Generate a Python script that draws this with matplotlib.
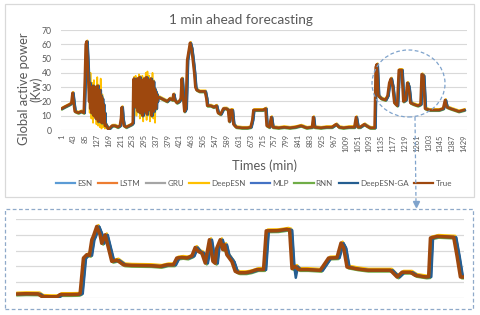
import numpy as np
import matplotlib
matplotlib.use("Agg")
import matplotlib.pyplot as plt
import matplotlib.transforms as mtransforms
from matplotlib.patches import Rectangle, Ellipse
from matplotlib.lines import Line2D

plt.rcParams['font.family'] = ['Lato', 'DejaVu Sans']

# ---------------- data ----------------
models = ["ESN", "LSTM", "GRU", "DeepESN", "MLP", "RNN", "DeepESN-GA", "True"]
colors = ["#5B9BD5", "#ED7D31", "#A5A5A5", "#FFC000", "#4472C4", "#70AD47", "#255E91", "#9E480E"]

# True series (main view), minutes and kW
true_t = [1, 10, 20, 30, 36, 40, 44, 48, 60, 70, 80, 84, 87, 90, 94,
          97, 99, 101, 103, 105, 107, 109, 111, 113, 115, 117, 119, 121, 123, 125, 127, 129, 131, 133,
          135, 137, 139, 141, 143, 145, 147, 149, 151, 153, 155, 157,
          165, 170, 175, 180, 190, 200, 208, 212, 215, 218, 222, 230, 240, 250, 254,
          256, 258, 260, 262, 264, 266, 268, 270, 272, 274, 276, 278, 280, 282, 284, 286, 288, 290,
          292, 294, 296, 298, 300, 302, 304, 306, 308, 310, 312, 314, 316, 318, 320, 322, 324, 326,
          328, 330, 332, 334, 336, 338, 340, 342,
          345, 355, 365, 375, 385, 395, 398, 402, 410, 418, 424, 428, 432, 437, 442, 447, 452, 457, 462,
          467, 472, 476, 480, 490, 500, 510, 515, 518, 530, 540, 550, 556, 565, 575, 585, 592, 596, 601,
          606, 611, 620, 640, 660, 672, 678, 682, 700, 715, 725, 729, 738, 745, 750, 770, 790, 810, 830,
          850, 870, 890, 894, 898, 920, 940, 960, 975, 985, 1000, 1020, 1040, 1046, 1052, 1060, 1075, 1082,
          1095, 1112, 1116, 1120, 1125, 1135, 1150, 1158, 1164, 1170, 1176, 1182, 1192, 1198, 1208, 1214,
          1222, 1228, 1233, 1239, 1250, 1265, 1275, 1279, 1285, 1291, 1305, 1320, 1340, 1355, 1362, 1368,
          1380, 1395, 1410, 1429]
true_v = [15, 16, 17, 18, 19, 26, 19, 13, 12, 13, 12, 37, 60, 62, 45,
          30, 20, 33, 15, 30, 12, 28, 18, 31, 10, 27, 15, 30, 8, 26, 14, 31, 6, 25,
          11, 28, 16, 24, 5, 22, 9, 18, 5, 12, 3, 4,
          1, 1, 2, 3, 3, 2, 3, 8, 16, 8, 3, 2, 3, 4, 5,
          34, 36, 22, 35, 16, 34, 25, 36, 13, 33, 20, 37, 12, 34, 24, 35, 10, 31,
          18, 36, 13, 33, 22, 37, 11, 34, 19, 35, 14, 33, 24, 36, 10, 31, 18, 34,
          13, 29, 20, 27, 15, 25, 20, 23,
          23, 22, 21, 20, 22, 21, 25, 21, 19, 20, 22, 36, 24, 13, 15, 49, 55, 61, 57,
          49, 40, 30, 28, 27, 27, 27, 22, 17, 17, 16, 17, 12, 11, 15, 15, 14, 6, 14,
          14, 4, 2, 1.5, 1.5, 2, 7, 14, 14, 14, 15, 3, 2, 9, 2, 1.5, 2, 1.5, 2,
          3, 1.5, 2, 9, 2, 1.5, 2, 2, 4, 2, 1.5, 2, 2, 9, 2, 2, 4, 3,
          1.5, 1.5, 44, 46, 24, 22, 21, 24, 33, 36, 30, 19, 17, 42, 42, 20,
          21, 33, 30, 19, 18, 17, 18, 39, 38, 15, 14, 14, 14, 15, 21, 16,
          15, 14, 13, 14]

# DeepESN wider swings in the two noisy stretches
deep_t1 = [98, 101, 104, 107, 110, 113, 116, 119, 122, 125, 128, 131, 134, 137, 140, 143, 146, 149, 152, 155, 158]
deep_v1 = [38, 12, 40, 8, 33, 5, 35, 10, 30, 4, 37, 3, 28, 2, 36, 1, 25, 2, 12, 1, 2]
deep_t2 = [258, 261, 264, 267, 270, 273, 276, 279, 282, 285, 288, 291, 294, 297, 300, 303, 306, 309,
           312, 315, 318, 321, 324, 327, 330, 333, 336, 339, 342]
deep_v2 = [37, 16, 38, 10, 36, 18, 39, 8, 36, 12, 38, 6, 33, 14, 40, 7, 41, 18,
           38, 6, 34, 12, 40, 8, 30, 5, 27, 16, 22]

# zoomed detail (lower panel), relative minute index and kW
zoom_t = [0, 6, 14.7, 17.2, 22.7, 27.4, 29.4, 36, 41.4, 42.8, 45, 47.2, 49, 50.6, 51.6, 53.9, 56.1,
          57.2, 59.5, 61.7, 63.9, 67.3, 71.7, 76.2, 89.5, 96.2, 100.7, 105, 107.3, 110.7, 114, 117.4,
          119.6, 121.8, 124, 126.3, 129.1, 131.4, 132.9, 134, 136.3, 138, 139.1, 140.7, 144.1, 146.3,
          148.5, 153, 156.3, 160.8, 165.2, 167, 174.2, 180.8, 182.6, 184.2, 186.4, 188.6, 194.2, 203,
          208.6, 214.2, 216.9, 218.7, 220.9, 227.6, 234.3, 249.8, 254.3, 257.6, 263.2, 266.5, 273.2,
          275.4, 276.6, 281, 292.1, 294.4, 296.6, 298.6]
zoom_v = [2.5, 2.7, 2.6, 1, 0.8, 0.8, 2.2, 2.2, 2.3, 2.9, 25.3, 27.4, 27, 36.9, 39, 45.3, 40,
          34.6, 40, 31.6, 23.2, 24, 21, 20.7, 20.5, 20, 21, 21, 25.3, 25.7, 25.3, 26.7,
          32, 29.4, 28.5, 22.1, 36.9, 23.2, 22, 31.6, 36.9, 30.6, 33.8, 27.4, 23, 16.9,
          16, 16, 16.6, 18, 18, 42.5, 42.6, 43.5, 43, 18.6, 20, 18, 18, 17.5,
          25.3, 25.5, 34.8, 31.6, 19.6, 18.4, 17.6, 17.6, 13.3, 16.3, 16.3, 14.3, 13.3,
          13.5, 38, 39, 38.5, 26.3, 13.3, 13.3]
ga_extra_t = [185.0, 299.5]
ga_extra_v = [13.0, 17.0]

xtick_labels = [str(1 + 42 * k) for k in range(35)]
y_ticks = [0, 10, 20, 30, 40, 50, 60, 70]

# ---------------- styling helpers ----------------
W, H = 480, 315
fig = plt.figure(figsize=(4.8, 3.15), dpi=100)
fig.patch.set_facecolor("white")

def fx(px):
    return px / W

def fy(py):
    return 1 - py / H

grey_txt = "#595959"
grid_c = "#D9D9D9"

# ---------------- main axes ----------------
ax = fig.add_axes([fx(61.5), fy(130), fx(467) - fx(61.5), fy(30) - fy(130)])
ax.set_xlim(1, 1440)
ax.set_ylim(0, 70)
ax.set_yticks(y_ticks)
ax.yaxis.grid(True, color=grid_c, lw=0.8)
ax.set_axisbelow(True)
for s in ax.spines.values():
    s.set_visible(False)
ax.set_xticks([1 + 42 * k for k in range(35)])
ax.set_xticklabels(xtick_labels, rotation=90, fontsize=5.4, color=grey_txt)
ax.tick_params(axis="x", length=0, pad=3)
ax.tick_params(axis="y", length=0, pad=7, labelsize=6.2, labelcolor=grey_txt)

main_off = {"ESN": (0.8, 0), "LSTM": (0.5, 0), "GRU": (0.3, 0), "DeepESN": (0.8, 0.9),
            "MLP": (1.0, 0), "RNN": (0.6, -1.0), "DeepESN-GA": (1.2, -0.3)}

# DeepESN extra swings
for tt, vv in ((deep_t1, deep_v1), (deep_t2, deep_v2)):
    ax.plot(tt, vv, color=colors[3], lw=1.2, zorder=2)

for name, col in zip(models, colors):
    if name == "True":
        ax.plot(true_t, true_v, color=col, lw=1.9, zorder=5)
    else:
        dx, dy = main_off[name]
        tr = mtransforms.offset_copy(ax.transData, fig=fig, x=dx, y=dy, units="dots")
        ax.plot(true_t, true_v, color=col, lw=1.5, transform=tr, zorder=3)

# titles / labels
fig.text(fx(241), fy(20), "1 min ahead forecasting", ha="center", va="center",
         fontsize=9.8, color=grey_txt)
fig.text(fx(30), fy(89), "Global active power\n(Kw)", rotation=90, ha="center", va="center",
         fontsize=9.3, color=grey_txt, multialignment="center", linespacing=1.0)
fig.text(fx(264), fy(166), "Times (min)", ha="center", va="center", fontsize=9.3, color=grey_txt)

handles = [Line2D([0], [0], color=c, lw=1.6) for c in colors]
leg = fig.legend(handles, models, loc="center", bbox_to_anchor=(fx(254), fy(183.5)), ncol=8,
                 frameon=False, fontsize=5.8, handlelength=2.4, handletextpad=0.25,
                 columnspacing=0.7, borderpad=0, borderaxespad=0)
for t in leg.get_texts():
    t.set_color(grey_txt)

# ---------------- zoom axes ----------------
az = fig.add_axes([fx(16), fy(298), fx(464) - fx(16), fy(219) - fy(298)])
az.set_xlim(0, 299)
az.set_ylim(0, 50)
az.set_yticks([0, 10, 20, 30, 40, 50])
az.yaxis.grid(True, color=grid_c, lw=0.9)
az.set_axisbelow(True)
az.set_xticks([])
az.tick_params(axis="y", length=0, labelleft=False)
for s in az.spines.values():
    s.set_visible(False)

zoom_off = {"ESN": (2.0, 0), "LSTM": (1.0, 0), "GRU": (0.8, 0), "DeepESN": (1.6, 1.3),
            "MLP": (2.2, 0), "RNN": (1.5, -1.3), "DeepESN-GA": (2.6, -0.3)}
ga_pairs = sorted(list(zip(zoom_t, zoom_v)) + list(zip(ga_extra_t, ga_extra_v)))
ga_t = [p[0] for p in ga_pairs]
ga_v = [p[1] for p in ga_pairs]
for name, col in zip(models, colors):
    if name == "True":
        az.plot(zoom_t, zoom_v, color=col, lw=2.5, zorder=5)
    else:
        dx, dy = zoom_off[name]
        tr = mtransforms.offset_copy(az.transData, fig=fig, x=dx, y=dy, units="dots")
        xs, ys = (ga_t, ga_v) if name == "DeepESN-GA" else (zoom_t, zoom_v)
        az.plot(xs, ys, color=col, lw=1.8, transform=tr, zorder=3)

# ---------------- frames and annotations ----------------
fig.patches.append(Rectangle((fx(5), fy(197)), fx(474) - fx(5), fy(4) - fy(197),
                             transform=fig.transFigure, fill=False, ec="#D9D9D9", lw=0.9))
fig.patches.append(Rectangle((fx(5), fy(309)), fx(473) - fx(5), fy(209) - fy(309),
                             transform=fig.transFigure, fill=False, ec="#8FA9C9", lw=0.9,
                             ls=(0, (3, 2))))
fig.patches.append(Ellipse((fx(408.5), fy(83.5)), fx(73), 67 / H, transform=fig.transFigure,
                           fill=False, ec="#7FA3CC", lw=0.9, ls=(0, (3, 2)), zorder=10))
fig.lines.append(Line2D([fx(415), fx(416)], [fy(117), fy(203)], transform=fig.transFigure,
                        color="#7FA3CC", lw=0.9, ls=(0, (3, 2)), zorder=10))
fig.lines.append(Line2D([fx(416)], [fy(204)], transform=fig.transFigure, marker="v",
                        markersize=4, color="#7FA3CC", ls="none", zorder=10))

fig.savefig("out.png", dpi=100, facecolor="white")
